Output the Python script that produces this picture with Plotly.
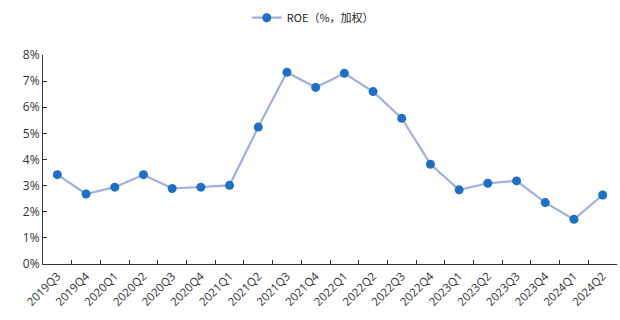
import plotly.graph_objects as go

quarters = [
    "2019Q3", "2019Q4", "2020Q1", "2020Q2", "2020Q3", "2020Q4",
    "2021Q1", "2021Q2", "2021Q3", "2021Q4", "2022Q1", "2022Q2",
    "2022Q3", "2022Q4", "2023Q1", "2023Q2", "2023Q3", "2023Q4",
    "2024Q1", "2024Q2",
]
roe = [
    3.42, 2.68, 2.94, 3.42, 2.89, 2.94,
    3.01, 5.24, 7.34, 6.76, 7.30, 6.60,
    5.58, 3.82, 2.84, 3.09, 3.18, 2.35,
    1.71, 2.64,
]
y_ticks = [0, 1, 2, 3, 4, 5, 6, 7, 8]

fig = go.Figure()
fig.add_trace(go.Scatter(
    x=quarters,
    y=roe,
    mode="lines+markers",
    name="ROE（%，加权）",
    line=dict(color="#9fb0dc", width=2.2),
    marker=dict(color="#1f6fc2", size=9),
))

fig.update_layout(
    width=620,
    height=320,
    margin=dict(l=43, r=3, t=55, b=56),
    paper_bgcolor="white",
    plot_bgcolor="white",
    font=dict(family="Noto Sans CJK SC, DejaVu Sans, sans-serif", color="#333333"),
    showlegend=True,
    legend=dict(
        orientation="h",
        x=0.47,
        xanchor="center",
        y=0.99,
        yanchor="top",
        yref="container",
        font=dict(size=11, color="#222222"),
        itemwidth=30,
    ),
    xaxis=dict(
        type="category",
        showline=True,
        linecolor="#333333",
        linewidth=1,
        ticks="inside",
        tickson="boundaries",
        ticklen=4,
        tickcolor="#333333",
        tickangle=-45,
        tickfont=dict(size=11.5, family="Open Sans, DejaVu Sans, sans-serif", color="#333333"),
        showgrid=False,
        range=[-0.5, len(quarters) - 0.5],
    ),
    yaxis=dict(
        range=[0, 8],
        tickvals=y_ticks,
        ticktext=[f"{v}%" for v in y_ticks],
        showline=True,
        linecolor="#333333",
        linewidth=1,
        ticks="inside",
        ticklen=4,
        tickcolor="#333333",
        showgrid=False,
        zeroline=False,
        tickfont=dict(size=12, family="Open Sans, DejaVu Sans, sans-serif", color="#333333"),
    ),
)

fig.write_html("out.html")
